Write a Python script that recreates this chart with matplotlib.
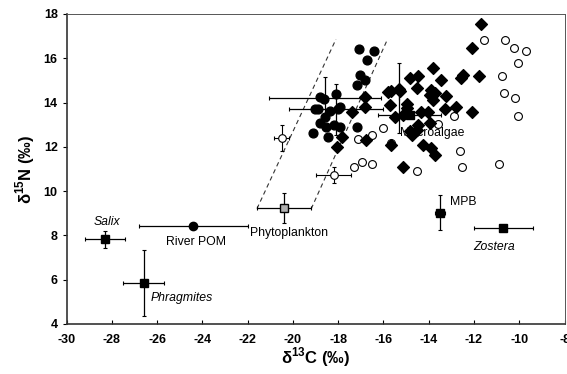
import matplotlib
matplotlib.use('Agg')
import matplotlib.pyplot as plt
import numpy as np

plt.rcParams['font.family'] = ['Liberation Sans', 'DejaVu Sans']
plt.rcParams['mathtext.fontset'] = 'custom'
plt.rcParams['mathtext.rm'] = 'Liberation Sans'
plt.rcParams['mathtext.bf'] = 'Liberation Sans:bold'
plt.rcParams['axes.unicode_minus'] = False

# Consumidores: circulos negros
circ_x = [-17.07, -16.43, -16.71, -17.02, -16.82, -17.19, -18.81, -18.65, -18.10, -19.03, -18.90,
          -18.00, -17.90, -18.81, -18.52, -19.11, -18.44, -17.93, -18.20, -17.19, -18.60, -18.35]
circ_y = [16.42, 16.33, 15.92, 15.24, 15.02, 14.79, 14.27, 14.15, 14.39, 13.69, 13.72,
          13.69, 13.80, 13.06, 12.91, 12.61, 12.43, 12.91, 13.00, 12.91, 13.35, 13.60]

# Consumidores: diamantes negros
diam_x = [-11.70, -12.08, -11.79, -12.58, -12.48, -13.81, -13.47, -14.47, -14.84, -14.50,
          -15.79, -15.65, -15.28, -13.88, -13.95, -13.73, -13.22, -13.81, -15.72, -14.94,
          -14.32, -14.03, -13.29, -12.78, -12.11, -15.50, -15.13, -14.98, -14.47, -14.54,
          -13.95, -15.68, -14.25, -13.88, -13.73, -15.13, -14.76, -16.82, -16.82, -17.41,
          -17.85, -18.05, -16.79, -15.30, -14.85]
diam_y = [17.53, 16.45, 15.20, 15.12, 15.25, 15.55, 15.02, 15.20, 15.09, 14.64,
          14.49, 14.52, 14.52, 14.57, 14.34, 14.42, 14.30, 14.12, 13.89, 13.92,
          13.59, 13.59, 13.70, 13.82, 13.59, 13.36, 13.44, 13.74, 12.99, 12.76,
          13.06, 12.08, 12.08, 11.93, 11.63, 11.10, 12.54, 14.24, 13.79, 13.59,
          12.46, 12.01, 12.31, 14.60, 12.70]

# Consumidores: circulos abiertos
open_x = [-11.55, -10.64, -10.23, -9.68, -10.05, -10.76, -10.67, -10.17, -10.05, -10.91,
          -12.53, -12.63, -12.89, -13.59, -14.51, -15.65, -16.01, -16.50, -17.12, -17.31,
          -16.93, -16.50]
open_y = [16.83, 16.83, 16.45, 16.33, 15.80, 15.20, 14.42, 14.22, 13.41, 11.21,
          11.10, 11.81, 13.41, 13.02, 10.91, 12.16, 12.84, 12.54, 12.34, 11.10,
          11.33, 11.23]

# Medias con barras de error dentro del grupo
bar_x = [-18.57, -18.09, -15.32]
bar_y = [14.19, 13.69, 14.19]
bar_xe = [2.48, 2.08, 0.0]
bar_ye = [0.95, 1.17, 1.58]

# Estaciones de fitoplancton (circulo con cruz)
phst_x = [-20.50, -18.19]
phst_y = [12.41, 10.73]
phst_xe = [0.33, 0.77]
phst_ye = [0.58, 0.38]

# Fuentes
src_names = ['Salix', 'Phragmites', 'River POM', 'Phytoplankton', 'MPB', 'Zostera', 'Macroalgae']
src_x = [-28.31, -26.59, -24.41, -20.39, -13.51, -10.71, -14.85]
src_y = [7.82, 5.83, 8.44, 9.22, 9.03, 8.32, 13.44]
src_xe = [0.90, 0.90, 2.41, 1.20, 0.22, 1.30, 1.38]
src_ye = [0.40, 1.49, 0.08, 0.68, 0.78, 0.05, 0.0]
src_mark = ['s', 's', 'o', 's', 's', 's', 's']
src_col = ['black', 'black', 'black', '#b0b0b0', 'black', 'black', 'black']
lab_x = [-28.21, -24.92, -24.29, -20.17, -12.48, -11.13, -13.85]
lab_y = [8.62, 5.19, 7.72, 8.09, 9.49, 7.49, 12.61]
lab_style = ['italic', 'italic', 'normal', 'normal', 'normal', 'italic', 'normal']

# Paralelogramo de fitoplancton (linea discontinua)
poly_x = [-21.59, -18.10, -15.87, -19.19]
poly_y = [9.21, 16.86, 16.75, 9.21]

fig = plt.figure(figsize=(5.67, 3.74), dpi=100)
ax = fig.add_axes([0.1176, 0.1337, 0.878, 0.8289])

ax.plot(poly_x[:2], poly_y[:2], color='#333333', ls=(0, (4, 3)), lw=0.8, zorder=1)
ax.plot(poly_x[2:], poly_y[2:], color='#333333', ls=(0, (4, 3)), lw=0.8, zorder=1)

ax.errorbar(bar_x, bar_y, xerr=bar_xe, yerr=bar_ye, fmt='none', ecolor='black',
            elinewidth=0.9, capsize=1.5, capthick=0.8, zorder=2)

ax.scatter(open_x, open_y, s=32, facecolor='white', edgecolor='black', linewidth=0.8, zorder=3)
ax.scatter(circ_x, circ_y, s=40, color='black', zorder=4)
ax.scatter(diam_x, diam_y, s=36, marker='D', color='black', zorder=4)

ax.errorbar(phst_x, phst_y, xerr=phst_xe, yerr=phst_ye, fmt='o', mfc='white', mec='black',
            ms=5.5, mew=0.8, ecolor='black', elinewidth=0.8, capsize=1.5, zorder=5)

for i in range(len(src_names)):
    ax.errorbar(src_x[i], src_y[i], xerr=src_xe[i], yerr=src_ye[i], fmt=src_mark[i],
                color=src_col[i], mec='black', ms=6, ecolor='black', elinewidth=0.9,
                capsize=1.5, capthick=0.8, zorder=6)
    ax.text(lab_x[i], lab_y[i], src_names[i], fontsize=8.8, style=lab_style[i],
            ha='center', va='center', zorder=7)

ax.set_xlim(-30, -8)
ax.set_ylim(4, 18)
ax.set_xticks(np.arange(-30, -7, 2))
ax.set_yticks(np.arange(4, 19, 2))
ax.tick_params(axis='x', direction='in', length=3, labelsize=9, pad=7)
ax.tick_params(axis='y', direction='out', length=3, labelsize=9)
for lab in ax.get_xticklabels() + ax.get_yticklabels():
    lab.set_fontweight('bold')

for s in ['left', 'bottom']:
    ax.spines[s].set_color('#333333')
    ax.spines[s].set_linewidth(1.2)
for s in ['top', 'right']:
    ax.spines[s].set_color('#555555')
    ax.spines[s].set_linewidth(0.7)

ax.set_xlabel(r'δ$^{\mathbf{13}}$C (‰)', fontsize=12, fontweight='bold', labelpad=0)
ax.set_ylabel(r'δ$^{\mathbf{15}}$N (‰)', fontsize=12, fontweight='bold', labelpad=5)

plt.savefig('out.png')
